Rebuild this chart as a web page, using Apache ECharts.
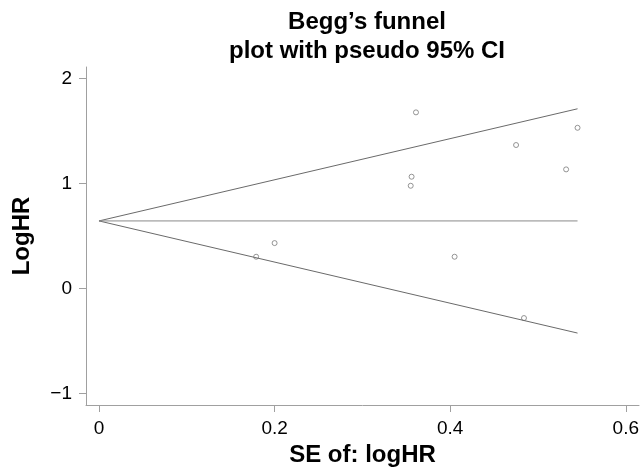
<!DOCTYPE html>
<html>
<head>
<meta charset="utf-8">
<script src="https://cdn.jsdelivr.net/npm/echarts@6/dist/echarts.min.js"></script>
<style>html,body{margin:0;padding:0;background:#fff}#c{width:643px;height:474px}</style>
</head>
<body>
<div id="c"></div>
<script>
// Study points: standard error of logHR and logHR
const studySE    = [0.179, 0.200, 0.355, 0.356, 0.361, 0.405, 0.475, 0.484, 0.532, 0.545];
const studyLogHR = [0.301, 0.431, 0.977, 1.063, 1.676, 0.301, 1.365, -0.283, 1.133, 1.529];
// Funnel (pseudo 95% CI) end points
const funnelSE    = [0, 0.545];
const funnelUpper = [0.642, 1.710];
const funnelLower = [0.642, -0.426];
const funnelMid   = [0.642, 0.642];
// Tick labels
const xTicks = [0, 0.2, 0.4, 0.6];
const yTicks = [-1, 0, 1, 2];

const font = '"Liberation Sans", Arial, sans-serif';
const pts = studySE.map((s, i) => [s, studyLogHR[i]]);
const line = arr => funnelSE.map((s, i) => [s, arr[i]]);
const lineStyle = {color: '#6a6a6a', width: 1};

const chart = echarts.init(document.getElementById('c'), null, {renderer: 'canvas'});
chart.setOption({
  animation: false,
  backgroundColor: '#fff',
  title: {
    text: 'Begg\u2019s funnel\nplot with pseudo 95% CI',
    left: 362, top: 3, textAlign: 'center',
    textStyle: {fontFamily: font, fontWeight: 'bold', fontSize: 24, lineHeight: 29, color: '#000'}
  },
  grid: {left: 86, right: 4, top: 67, bottom: 69, containLabel: false},
  xAxis: {
    type: 'value', min: -0.0148, max: 0.615,
    name: 'SE of: logHR', nameLocation: 'middle', nameGap: 36,
    nameTextStyle: {fontFamily: font, fontWeight: 'bold', fontSize: 24, color: '#000'},
    axisLine: {show: true, onZero: false, lineStyle: {color: '#a0a0a0', width: 1}},
    axisTick: {show: true, length: 7, customValues: xTicks, lineStyle: {color: '#a0a0a0'}},
    axisLabel: {customValues: xTicks, margin: 14, fontFamily: font, fontSize: 19, color: '#000',
      formatter: v => String(v)},
    splitLine: {show: false}
  },
  yAxis: {
    type: 'value', min: -1.111, max: 2.108,
    name: 'LogHR', nameLocation: 'middle', nameGap: 52, nameRotate: 90,
    nameTextStyle: {fontFamily: font, fontWeight: 'bold', fontSize: 24, color: '#000'},
    axisLine: {show: true, onZero: false, lineStyle: {color: '#a0a0a0', width: 1}},
    axisTick: {show: true, length: 7, customValues: yTicks, lineStyle: {color: '#a0a0a0'}},
    axisLabel: {customValues: yTicks, margin: 14, fontFamily: font, fontSize: 19, color: '#000',
      formatter: v => v < 0 ? '\u2212' + Math.abs(v) : String(v)},
    splitLine: {show: false}
  },
  series: [
    {type: 'line', data: line(funnelUpper), symbol: 'none', lineStyle, silent: true},
    {type: 'line', data: line(funnelLower), symbol: 'none', lineStyle, silent: true},
    {type: 'line', data: line(funnelMid), symbol: 'none', lineStyle: {color: '#8a8a8a', width: 1}, silent: true},
    {type: 'scatter', data: pts, symbol: 'circle', symbolSize: 5,
     itemStyle: {color: '#fff', borderColor: '#7a7a7a', borderWidth: 1}}
  ]
});
</script>
</body>
</html>
